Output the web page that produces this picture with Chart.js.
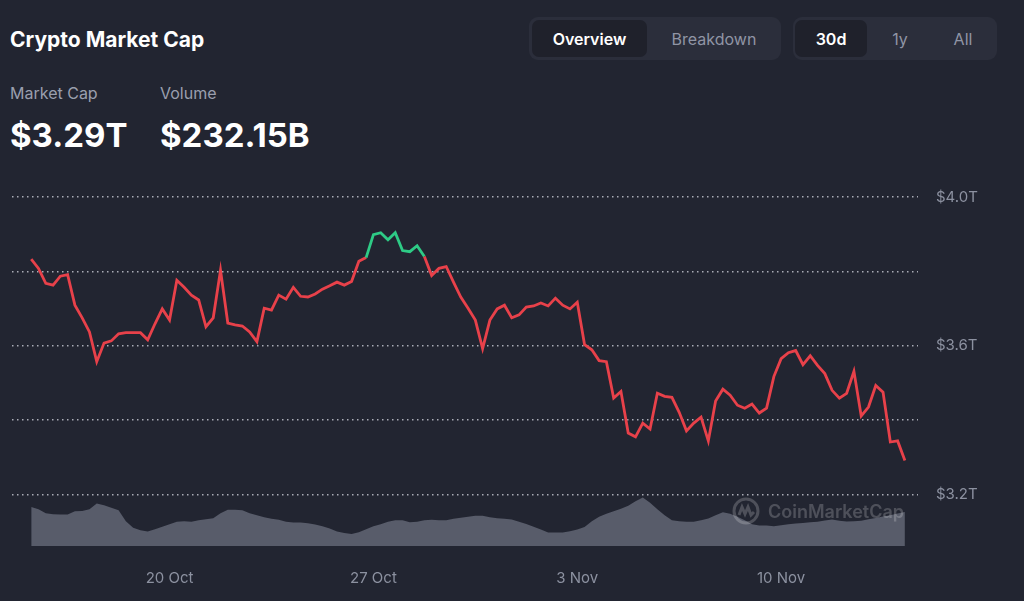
<!DOCTYPE html>
<html>
<head>
<meta charset="utf-8">
<script src="https://cdn.jsdelivr.net/npm/chart.js@4.4.1/dist/chart.umd.min.js"></script>
<style>
  html, body { margin: 0; padding: 0; }
  body { width: 1024px; height: 601px; background: #222531; font-family: Inter, "Noto Sans", sans-serif; position: relative; overflow: hidden; }
  .title { position: absolute; left: 10px; top: 27px; color: #fff; font-size: 21px; font-weight: 700; }
  .label { position: absolute; top: 83px; color: #9a9fae; font-size: 16px; }
  .big { position: absolute; top: 115px; color: #fff; font-size: 33px; font-weight: 700; }
  .group { position: absolute; top: 17px; height: 43px; background: #2b2e3b; border-radius: 9px; }
  .btn { position: absolute; top: 3px; height: 37px; line-height: 38px; text-align: center; font-size: 16px; color: #9095a5; border-radius: 7px; }
  .btn.on { background: #1f212b; color: #fff; font-weight: 600; }
  #wrap { position: absolute; left: 0; top: 170px; width: 1024px; height: 431px; }
  .wm { position: absolute; left: 732px; top: 497px; display: flex; align-items: center; color: rgba(255,255,255,0.2); font-size: 18px; font-weight: 600; }
  .wm span { margin-left: 8px; }
</style>
</head>
<body>
<div class="title">Crypto Market Cap</div>
<div class="label" style="left:10px">Market Cap</div>
<div class="label" style="left:160px">Volume</div>
<div class="big" style="left:10px">$3.29T</div>
<div class="big" style="left:160px">$232.15B</div>

<div class="group" style="left:529px; width:252px">
  <div class="btn on" style="left:3px; width:115px">Overview</div>
  <div class="btn" style="left:126px; width:118px">Breakdown</div>
</div>
<div class="group" style="left:793px; width:204px">
  <div class="btn on" style="left:2px; width:72px">30d</div>
  <div class="btn" style="left:78px; width:58px">1y</div>
  <div class="btn" style="left:140px; width:60px">All</div>
</div>

<div id="wrap"><canvas id="capChart" width="1024" height="431"></canvas></div>

<div class="wm">
  <svg width="28" height="28" viewBox="0 0 28 28">
    <circle cx="14" cy="14" r="12" fill="none" stroke="rgba(255,255,255,0.2)" stroke-width="3"/>
    <polyline points="7,18 10,10 13,17 16,10 19,18 22,15" fill="none" stroke="rgba(255,255,255,0.2)" stroke-width="3"/>
  </svg>
  <span>CoinMarketCap</span>
</div>

<script>
// days counted from 20 Oct 00:00, one point every 6 hours
const startDay = -4.75;
const stepDay = 0.25;

// total market cap, $T
const marketCap = [
  3.833, 3.808, 3.768, 3.763, 3.787, 3.791, 3.709, 3.675, 3.637, 3.557,
  3.607, 3.613, 3.632, 3.635, 3.635, 3.635, 3.616, 3.659, 3.699, 3.669,
  3.776, 3.757, 3.736, 3.723, 3.651, 3.675, 3.803, 3.661, 3.656, 3.653,
  3.637, 3.611, 3.701, 3.696, 3.736, 3.725, 3.757, 3.733, 3.731, 3.739,
  3.752, 3.761, 3.771, 3.763, 3.773, 3.827, 3.837, 3.899, 3.904, 3.885,
  3.904, 3.856, 3.853, 3.869, 3.840, 3.789, 3.808, 3.813, 3.771, 3.731,
  3.701, 3.669, 3.592, 3.669, 3.699, 3.709, 3.675, 3.683, 3.704, 3.707,
  3.715, 3.707, 3.728, 3.709, 3.699, 3.717, 3.603, 3.589, 3.560, 3.557,
  3.459, 3.477, 3.365, 3.355, 3.392, 3.376, 3.472, 3.464, 3.461, 3.421,
  3.371, 3.392, 3.408, 3.344, 3.451, 3.483, 3.467, 3.440, 3.432, 3.443,
  3.419, 3.432, 3.517, 3.565, 3.581, 3.587, 3.549, 3.573, 3.547, 3.525,
  3.480, 3.459, 3.472, 3.531, 3.411, 3.435, 3.493, 3.475, 3.341, 3.344,
  3.291
];

// 24h volume, $B
const volume = [
  268, 252, 225, 218, 216, 216, 239, 241, 252, 293,
  280, 263, 246, 171, 126, 109, 99, 116, 133, 150,
  167, 171, 167, 177, 184, 191, 225, 249, 249, 246,
  225, 211, 198, 188, 181, 167, 162, 162, 157, 147,
  136, 121, 99, 89, 82, 95, 116, 136, 150, 167,
  177, 177, 164, 167, 177, 181, 177, 177, 188, 194,
  201, 208, 208, 198, 191, 188, 182, 167, 151, 133,
  113, 93, 93, 93, 102, 113, 130, 171, 201, 222,
  239, 256, 276, 307, 334, 297, 252, 211, 177, 171,
  167, 167, 177, 189, 211, 232, 222, 201, 177, 150,
  141, 141, 136, 143, 150, 155, 159, 164, 167, 175,
  182, 174, 168, 171, 174, 184, 193, 203, 211, 223,
  234
];

const xTickDays = [0, 7, 14, 21];
const xTickLabels = ['20 Oct', '27 Oct', '3 Nov', '10 Nov'];
const yTicks = [3.2, 3.4, 3.6, 3.8, 4.0];
const yLabelled = [3.2, 3.6, 4.0];

const red = '#e8414a';
const green = '#2ecb86';
const baseCap = marketCap[0];

const capPoints = marketCap.map((v, i) => ({ x: startDay + i * stepDay, y: v }));
const volPoints = volume.map((v, i) => ({ x: startDay + i * stepDay, y: v }));

const ctx = document.getElementById('capChart').getContext('2d');

new Chart(ctx, {
  type: 'line',
  data: {
    datasets: [{
      data: capPoints,
      yAxisID: 'y',
      borderColor: red,
      borderWidth: 2.8,
      pointRadius: 0,
      tension: 0,
      segment: {
        borderColor: c => ((c.p0.parsed.y + c.p1.parsed.y) / 2 >= baseCap ? green : red)
      }
    }, {
      data: volPoints,
      yAxisID: 'vol',
      borderWidth: 0,
      borderColor: 'rgba(0,0,0,0)',
      backgroundColor: '#585c6a',
      fill: 'origin',
      pointRadius: 0,
      tension: 0
    }]
  },
  options: {
    responsive: false,
    animation: false,
    devicePixelRatio: 1,
    layout: { padding: { left: 12, top: 24, right: 0, bottom: 0 } },
    plugins: { legend: { display: false }, tooltip: { enabled: false } },
    scales: {
      x: {
        type: 'linear',
        min: -5.41,
        max: 25.70,
        grid: { display: false },
        border: { display: false },
        afterBuildTicks: axis => { axis.ticks = xTickDays.map(v => ({ value: v })); },
        afterFit: axis => { axis.height = 55; },
        ticks: {
          color: '#8c91a0',
          font: { family: 'Inter', size: 15 },
          padding: 15,
          maxRotation: 0,
          callback: v => xTickLabels[xTickDays.indexOf(v)]
        }
      },
      y: {
        position: 'right',
        min: 3.0613,
        max: 4.0,
        afterBuildTicks: axis => { axis.ticks = yTicks.map(v => ({ value: v })); },
        afterFit: axis => { axis.width = 106; },
        grid: { color: '#a9acb6', lineWidth: 1.5, drawTicks: false },
        border: { display: false, dash: [1.5, 3.5] },
        ticks: {
          color: '#8c91a0',
          font: { family: 'Inter', size: 15 },
          padding: 18,
          callback: v => (yLabelled.some(t => Math.abs(t - v) < 1e-6) ? '$' + v.toFixed(1) + 'T' : '')
        }
      },
      vol: {
        display: false,
        min: 0,
        max: 2400
      }
    }
  }
});
</script>
</body>
</html>
